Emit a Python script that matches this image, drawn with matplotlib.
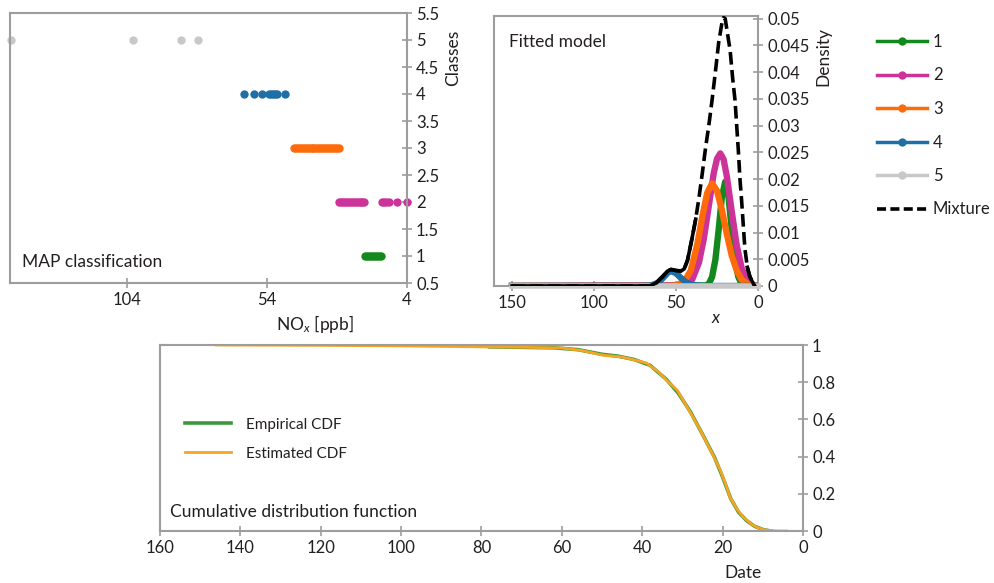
import numpy as np
import matplotlib
matplotlib.use('Agg')
import matplotlib.pyplot as plt
from matplotlib.lines import Line2D

plt.rcParams['font.family'] = ['Lato', 'DejaVu Sans']
plt.rcParams['mathtext.fontset'] = 'custom'
plt.rcParams['mathtext.rm'] = 'Lato'
plt.rcParams['mathtext.it'] = 'Lato:italic'

TXT = '#231f20'
SPINE = '#9d9d9d'
C1, C2, C3, C4, C5 = '#13881c', '#cc3399', '#ff6a0a', '#1f6fa6', '#c8c8c8'

# MAP classification: NOx value of each point, per class
cls5_x = [145.5, 102.0, 84.7, 78.5]
cls4_x = [62.1, 58.6, 55.7, 53.4, 52.6, 51.8, 51.1, 50.3, 47.6]
cls3_x = [44.4, 43.7, 43.0, 42.3, 41.6, 40.9, 40.2, 39.5, 38.8, 38.1, 37.4, 36.7,
          36.0, 35.3, 34.6, 33.9, 33.2, 32.5, 31.8, 31.1, 30.4, 29.7, 29.0, 28.3]
cls2_x = [28.3, 27.6, 26.9, 26.2, 25.5, 24.8, 24.1, 23.4, 22.7, 22.0, 21.3, 20.6,
          19.9, 19.2, 13.0, 12.2, 11.4, 10.5, 7.5, 4.1]
cls1_x = [19.0, 18.3, 17.6, 16.9, 16.2, 15.5, 14.8, 14.1, 13.3]

# Fitted model: density curves
g1_x = [150, 32, 30, 28, 26, 24, 22, 20, 18, 16, 14, 12, 10, 8, 0]
g1_d = [0, 0.0001, 0.0004, 0.0017, 0.0049, 0.0105, 0.0167, 0.0195, 0.0167, 0.0105,
        0.0049, 0.0017, 0.0004, 0.0001, 0]
g2_x = [150, 50, 45, 40, 36, 33, 30, 27, 25, 23, 21, 19, 16, 13, 10, 7, 4, 2, 0]
g2_d = [0, 0.0001, 0.0002, 0.0013, 0.0044, 0.0089, 0.0150, 0.0211, 0.0238, 0.0248,
        0.0237, 0.0205, 0.0139, 0.0076, 0.0034, 0.0012, 0.0004, 0.0001, 0]
g3_x = [150, 55, 50, 45, 41, 37, 34, 31, 28, 25, 22, 19, 16, 13, 10, 7, 4, 0]
g3_d = [0, 0.0, 0.0001, 0.0008, 0.0029, 0.0078, 0.0129, 0.0174, 0.0192, 0.0178,
        0.0142, 0.0097, 0.0057, 0.0029, 0.0012, 0.0005, 0.0002, 0]
g4_x = [150, 70, 65, 61, 58, 55, 53, 50, 47, 44, 41, 37, 33, 0]
g4_d = [0, 0.0, 0.0001, 0.0006, 0.0015, 0.0025, 0.0028, 0.0024, 0.0015, 0.0007,
        0.0003, 0.0001, 0, 0]
g5_x = [150, 0]
g5_d = [0, 0]
mix_x = [150, 66, 62, 58, 55, 53, 50, 47, 45, 43, 40.5, 38, 36, 34, 32, 30, 28, 26,
         24, 22, 21, 20, 18.5, 17, 15.5, 14, 13, 12, 11, 10, 9, 8, 6.5, 5, 3.5, 2]
mix_d = [0, 0, 0.0006, 0.0018, 0.0028, 0.0031, 0.0029, 0.0028, 0.0032, 0.0048,
         0.0085, 0.0125, 0.0165, 0.0210, 0.0258, 0.0300, 0.0348, 0.0400, 0.0455,
         0.0492, 0.0502, 0.0500, 0.0470, 0.0441, 0.0390, 0.0347, 0.0300, 0.0254,
         0.0200, 0.0160, 0.0115, 0.0070, 0.0035, 0.0018, 0.0008, 0.0]
comp_labels = ['1', '2', '3', '4', '5']

# Cumulative distribution function
est_x = [146, 120, 100, 80, 70, 60, 55, 50, 45, 42, 39, 36, 33.5, 31.3, 29.5, 27.4,
         25.5, 23.9, 22.2, 20.6, 19.3, 18.2, 16.5, 14.9, 13, 11.5, 10, 8, 6, 4]
est_F = [1.0, 0.998, 0.995, 0.99, 0.988, 0.984, 0.97, 0.946, 0.935, 0.92, 0.903,
         0.856, 0.80, 0.758, 0.69, 0.613, 0.54, 0.473, 0.40, 0.328, 0.255, 0.183,
         0.12, 0.075, 0.04, 0.02, 0.008, 0.002, 0.0, 0.0]
emp_x = [78, 62, 56, 50, 46, 42, 38, 34, 31, 28, 25, 22, 20, 18, 16, 14, 12, 10, 8]
emp_F = [0.99, 0.985, 0.975, 0.95, 0.94, 0.922, 0.89, 0.815, 0.74, 0.64, 0.52,
         0.395, 0.29, 0.175, 0.10, 0.055, 0.025, 0.008, 0.0]

W, H = 995, 583
fig = plt.figure(figsize=(W / 100, H / 100), dpi=100)


def box(l, t, r, b):
    return [l / W, 1 - b / H, (r - l) / W, (b - t) / H]


def style(ax):
    for s in ax.spines.values():
        s.set_color(SPINE)
        s.set_linewidth(1.5)
    ax.tick_params(direction='inout', length=7, width=1.2, color=SPINE,
                   labelcolor=TXT, labelsize=12, pad=3)
    ax.yaxis.tick_right()


def fmt(vals):
    return ['%g' % round(v, 4) for v in vals]


# panel 1
ax1 = fig.add_axes(box(10, 13, 407, 283))
style(ax1)
for xs, yv, c in [(cls5_x, 5, C5), (cls4_x, 4, C4), (cls3_x, 3, C3),
                  (cls2_x, 2, C2), (cls1_x, 1, C1)]:
    ax1.plot(xs, [yv] * len(xs), 'o', color=c, ms=6, mec='none', clip_on=False)
ax1.set_xlim(145.8, 4)
ax1.set_ylim(0.5, 5.5)
ax1.set_xticks([104, 54, 4])
yt = np.arange(0.5, 5.51, 0.5)
ax1.set_yticks(yt)
ax1.set_yticklabels(fmt(yt))
ax1.text(0.03, 0.06, 'MAP classification', transform=ax1.transAxes, fontsize=12.5,
         color=TXT)
fig.text(315 / W, 1 - 324 / H, r'NO$_x$ [ppb]', ha='center', va='center',
         fontsize=12.5, color=TXT)
fig.text(453 / W, 1 - 58 / H, 'Classes', rotation=90, ha='center', va='center',
         fontsize=12.5, color=TXT)

# panel 2
ax2 = fig.add_axes(box(494, 16, 758, 286))
style(ax2)
lw = 4.6
ax2.plot(g1_x, g1_d, color=C1, lw=lw, zorder=2)
ax2.plot(g2_x, g2_d, color=C2, lw=lw, zorder=3)
ax2.plot(g3_x, g3_d, color=C3, lw=lw, zorder=4)
ax2.plot(g4_x, g4_d, color=C4, lw=lw, zorder=5)
ax2.plot(g5_x, g5_d, color=C5, lw=4, zorder=5.5, clip_on=False)
mx = np.array(mix_x)
md = np.array(mix_d)
ax2.plot(np.where(mx >= 38, mx, np.nan), md, color='black', lw=2.6, zorder=6)
ax2.plot(np.where(mx <= 6.5, mx, np.nan), md, color='black', lw=2.6, zorder=6)
ax2.plot(mx, md, color='black', lw=2.6, dashes=(3.5, 1.5), zorder=7)
ax2.set_xlim(161, 0)
ax2.set_ylim(0, 0.0505)
ax2.set_xticks([150, 100, 50, 0])
yt2 = np.arange(0, 0.0501, 0.005)
ax2.set_yticks(yt2)
ax2.set_yticklabels(fmt(yt2))
ax2.text(0.055, 0.905, 'Fitted model', transform=ax2.transAxes, fontsize=12.5,
         color=TXT, va='center')
fig.text(716 / W, 1 - 318 / H, r'$x$', ha='center', va='center', fontsize=12.5,
         color=TXT)
fig.text(823 / W, 1 - 57 / H, 'Density', rotation=90, ha='center', va='center',
         fontsize=12.5, color=TXT)

handles = [Line2D([], [], color=c, lw=2.5, marker='o', ms=6, mec='none')
           for c in [C1, C2, C3, C4, C5]]
handles.append(Line2D([], [], color='black', lw=2.6, dashes=(2.5, 1.2)))
fig.legend(handles, comp_labels + ['Mixture'], loc='upper left',
           bbox_to_anchor=(877 / W, 1 - 34 / H), frameon=False, fontsize=12,
           handlelength=3.0, handletextpad=0.35, labelspacing=1.05,
           labelcolor=TXT, borderaxespad=0, borderpad=0)

# panel 3
ax3 = fig.add_axes(box(160, 345, 803, 531))
style(ax3)
ax3.plot(emp_x, emp_F, color='#3c9a3c', lw=2.6, label='Empirical CDF')
ax3.plot(est_x, est_F, color='#f5a524', lw=2.0, label='Estimated CDF')
ax3.set_xlim(160, 0)
ax3.set_ylim(0, 1)
ax3.set_xticks(np.arange(0, 161, 20))
yt3 = np.arange(0, 1.01, 0.2)
ax3.set_yticks(yt3)
ax3.set_yticklabels(fmt(yt3))
ax3.legend(loc='upper left', bbox_to_anchor=(0.039, 0.61), frameon=False,
           fontsize=11, handlelength=3.0, handletextpad=1.0, labelspacing=1.0,
           labelcolor=TXT, borderpad=0, borderaxespad=0)
ax3.text(0.015, 0.1, 'Cumulative distribution function',
         transform=ax3.transAxes, fontsize=12.5, color=TXT, va='center')
fig.text(743 / W, 1 - 573 / H, 'Date', ha='center', va='center', fontsize=12.5,
         color=TXT)

fig.savefig('out.png', dpi=100)
